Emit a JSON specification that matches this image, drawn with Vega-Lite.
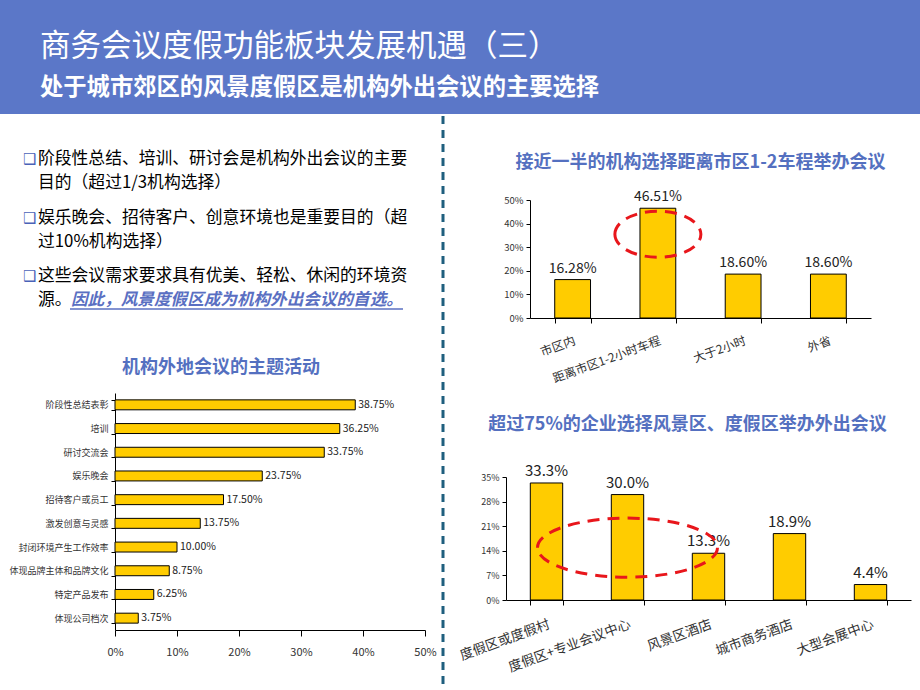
{
  "$schema": "https://vega.github.io/schema/vega-lite/v6.json",
  "background": "white",
  "padding": 0,
  "spacing": 0,
  "config": {
    "view": {"stroke": null},
    "font": "Noto Sans CJK SC",
    "axis": {"grid": false, "domainColor": "#000000", "tickColor": "#000000", "labelColor": "#333333", "labelFont": "Noto Sans CJK SC", "labelFlush": false},
    "title": {"font": "Noto Sans CJK SC", "fontSize": 18, "fontWeight": "bold", "color": "#5470C0"}
  },
  "vconcat": [
    {
      "width": 920,
      "height": 114,
      "view": {"fill": "#5B77C8", "stroke": null},
      "data": {"values": [
        {"kind": "title", "t": "商务会议度假功能板块发展机遇（三）"},
        {"kind": "subtitle", "t": "处于城市郊区的风景度假区是机构外出会议的主要选择"}
      ]},
      "encoding": {
        "y": {"field": "kind", "type": "ordinal", "sort": ["title", "subtitle"], "axis": null, "scale": {"type": "point", "range": [47, 88], "padding": 0}}
      },
      "layer": [
        {
          "transform": [{"filter": "datum.kind === 'title'"}],
          "mark": {"type": "text", "align": "left", "baseline": "middle", "fontSize": 30.5, "color": "white"},
          "encoding": {"x": {"value": 40}, "text": {"field": "t"}}
        },
        {
          "transform": [{"filter": "datum.kind === 'subtitle'"}],
          "mark": {"type": "text", "align": "left", "baseline": "middle", "fontSize": 23.3, "fontWeight": "bold", "color": "white"},
          "encoding": {"x": {"value": 40}, "text": {"field": "t"}}
        }
      ]
    },
    {
      "spacing": 0,
      "hconcat": [
        {
          "spacing": 40,
          "vconcat": [
            {
              "width": 440,
              "height": 203,
              "data": {"values": [
                {"p": 1, "style": "body", "lines": ["阶段性总结、培训、研讨会是机构外出会议的主要", "目的（超过1/3机构选择）"]},
                {"p": 2, "style": "body", "lines": ["娱乐晚会、招待客户、创意环境也是重要目的（超", "过10%机构选择）"]},
                {"p": 3, "style": "body", "lines": ["这些会议需求要求具有优美、轻松、休闲的环境资", "源。"]},
                {"p": 3, "style": "emphasis", "lines": ["", "因此，风景度假区成为机构外出会议的首选。"]}
              ]},
              "encoding": {
                "y": {"field": "p", "type": "ordinal", "axis": null, "scale": {"type": "point", "padding": 0.735}}
              },
              "layer": [
                {
                  "transform": [{"filter": "datum.style === 'body'"}],
                  "mark": {"type": "text", "align": "left", "baseline": "middle", "fontSize": 16.8, "lineHeight": 24, "color": "#000000"},
                  "encoding": {"x": {"value": 38}, "text": {"field": "lines"}}
                },
                {
                  "transform": [{"filter": "datum.style === 'body'"}],
                  "mark": {"type": "text", "align": "left", "baseline": "middle", "fontSize": 15, "fontWeight": "bold", "lineHeight": 24, "color": "#4A62B8", "font": "DejaVu Sans"},
                  "encoding": {"x": {"value": 23}, "text": {"value": ["❑", ""]}}
                },
                {
                  "transform": [{"filter": "datum.style === 'emphasis'"}],
                  "mark": {"type": "text", "align": "left", "baseline": "middle", "fontSize": 16.6, "fontStyle": "italic", "fontWeight": "bold", "lineHeight": 24, "color": "#5A6FC2"},
                  "encoding": {"x": {"value": 71}, "text": {"field": "lines"}}
                },
                {
                  "transform": [{"filter": "datum.style === 'emphasis'"}],
                  "mark": {"type": "rule", "color": "#5A6FC2", "strokeWidth": 1.3, "yOffset": 33},
                  "encoding": {"x": {"value": 70}, "x2": {"value": 403}}
                }
              ]
            },
            {
              "spacing": 7,
              "hconcat": [
                {"width": 1, "height": 1, "data": {"values": [{}]}, "mark": {"type": "point", "size": 0, "strokeWidth": 0, "opacity": 0}},
                {
                  "width": 310,
                  "height": 237,
                  "title": {"text": "机构外地会议的主题活动", "offset": 12, "dx": -49},
                  "data": {"values": [
                    {"item": "阶段性总结表彰", "share": 0.3875},
                    {"item": "培训", "share": 0.3625},
                    {"item": "研讨交流会", "share": 0.3375},
                    {"item": "娱乐晚会", "share": 0.2375},
                    {"item": "招待客户或员工", "share": 0.175},
                    {"item": "激发创意与灵感", "share": 0.1375},
                    {"item": "封闭环境产生工作效率", "share": 0.1},
                    {"item": "体现品牌主体和品牌文化", "share": 0.0875},
                    {"item": "特定产品发布", "share": 0.0625},
                    {"item": "体现公司档次", "share": 0.0375}
                  ]},
                  "encoding": {
                    "y": {"field": "item", "type": "nominal", "sort": null,
                      "scale": {"domain": ["阶段性总结表彰", "培训", "研讨交流会", "娱乐晚会", "招待客户或员工", "激发创意与灵感", "封闭环境产生工作效率", "体现品牌主体和品牌文化", "特定产品发布", "体现公司档次"], "paddingInner": 0.58, "paddingOuter": 0.29},
                      "axis": {"title": null, "tickBand": "extent", "tickSize": 4, "labelPadding": 3, "labelFontSize": 9}},
                    "x": {"field": "share", "type": "quantitative",
                      "scale": {"domain": [0, 0.5], "nice": false},
                      "axis": {"title": null, "values": [0, 0.1, 0.2, 0.3, 0.4, 0.5], "format": ".0%", "tickSize": 6, "labelPadding": 10, "labelFontSize": 11}}
                  },
                  "layer": [
                    {"mark": {"type": "bar", "fill": "#FFCC00", "stroke": "#000000", "strokeWidth": 1}},
                    {"mark": {"type": "text", "align": "left", "baseline": "middle", "dx": 3, "fontSize": 10.5, "color": "#222222"},
                     "encoding": {"text": {"field": "share", "type": "quantitative", "format": ".2%"}}}
                  ]
                }
              ]
            }
          ]
        },
        {
          "width": 6,
          "height": 576,
          "data": {"values": [{"divider": "column separator"}]},
          "mark": {"type": "rule", "color": "#1F5F7E", "strokeWidth": 3, "strokeDash": [8, 6]},
          "encoding": {"x": {"datum": 0.5, "type": "quantitative", "scale": {"domain": [0, 1]}, "axis": null}}
        },
        {
          "spacing": 30,
          "vconcat": [
            {
              "spacing": 37,
              "vconcat": [
                {"width": 1, "height": 1, "data": {"values": [{}]}, "mark": {"type": "point", "size": 0, "strokeWidth": 0, "opacity": 0}},
                {
                  "spacing": 56,
                  "hconcat": [
                    {"width": 1, "height": 1, "data": {"values": [{}]}, "mark": {"type": "point", "size": 0, "strokeWidth": 0, "opacity": 0}},
                    {
                      "width": 341,
                      "height": 118,
                      "title": {"text": "接近一半的机构选择距离市区1-2车程举办会议", "offset": 18, "frame": "group"},
                      "encoding": {
                        "x": {"field": "dist", "type": "nominal", "sort": null,
                          "scale": {"domain": ["市区内", "距离市区1-2小时车程", "大于2小时", "外省"], "paddingInner": 0.58, "paddingOuter": 0.29},
                          "axis": {"title": null, "tickBand": "extent", "labelAngle": -20, "labelAlign": "right", "labelBaseline": "top", "tickSize": 5, "labelPadding": 12, "labelFontSize": 12}},
                        "y": {"field": "share", "type": "quantitative",
                          "scale": {"domain": [0, 0.5], "nice": false},
                          "axis": {"title": null, "values": [0, 0.1, 0.2, 0.3, 0.4, 0.5], "format": ".0%", "tickSize": 4, "labelPadding": 3, "labelFontSize": 9.5}}
                      },
                      "layer": [
                        {
                          "data": {"values": [
                            {"dist": "市区内", "share": 0.1628},
                            {"dist": "距离市区1-2小时车程", "share": 0.4651},
                            {"dist": "大于2小时", "share": 0.186},
                            {"dist": "外省", "share": 0.186}
                          ]},
                          "layer": [
                            {"mark": {"type": "bar", "fill": "#FFCC00", "stroke": "#000000", "strokeWidth": 1}},
                            {"mark": {"type": "text", "baseline": "bottom", "dy": -4, "fontSize": 14, "color": "#222222"},
                             "encoding": {"text": {"field": "share", "type": "quantitative", "format": ".2%"}}}
                          ]
                        },
                        {
                          "data": {"values": [{"dist": "距离市区1-2小时车程", "share": 0.355}]},
                          "mark": {"type": "point", "shape": "M-1,0C-1,-0.295,-0.552,-0.535,0,-0.535C0.552,-0.535,1,-0.295,1,0C1,0.295,0.552,0.535,0,0.535C-0.552,0.535,-1,0.295,-1,0Z", "size": 7396, "filled": false, "stroke": "#E8161B", "strokeWidth": 3, "strokeDash": [12, 8], "opacity": 1, "strokeOpacity": 1}
                        }
                      ]
                    }
                  ]
                }
              ]
            },
            {
              "spacing": 10,
              "hconcat": [
                {"width": 1, "height": 1, "data": {"values": [{}]}, "mark": {"type": "point", "size": 0, "strokeWidth": 0, "opacity": 0}},
                {
                  "width": 405,
                  "height": 123,
                  "title": {"text": "超过75%的企业选择风景区、度假区举办外出会议", "offset": 30, "dx": -21},
                  "encoding": {
                    "x": {"field": "venue", "type": "nominal", "sort": null,
                      "scale": {"domain": ["度假区或度假村", "度假区+专业会议中心", "风景区酒店", "城市商务酒店", "大型会展中心"], "paddingInner": 0.6, "paddingOuter": 0.3},
                      "axis": {"title": null, "tickBand": "extent", "labelAngle": -20, "labelAlign": "right", "labelBaseline": "top", "tickSize": 5, "labelPadding": 12, "labelFontSize": 13.5}},
                    "y": {"field": "share", "type": "quantitative",
                      "scale": {"domain": [0, 0.35], "nice": false},
                      "axis": {"title": null, "values": [0, 0.07, 0.14, 0.21, 0.28, 0.35], "format": ".0%", "tickSize": 4, "labelPadding": 3, "labelFontSize": 9}}
                  },
                  "layer": [
                    {
                      "data": {"values": [
                        {"venue": "度假区或度假村", "share": 0.333},
                        {"venue": "度假区+专业会议中心", "share": 0.3},
                        {"venue": "风景区酒店", "share": 0.133},
                        {"venue": "城市商务酒店", "share": 0.189},
                        {"venue": "大型会展中心", "share": 0.044}
                      ]},
                      "layer": [
                        {"mark": {"type": "bar", "fill": "#FFCC00", "stroke": "#000000", "strokeWidth": 1}},
                        {"mark": {"type": "text", "baseline": "bottom", "dy": -4, "fontSize": 15, "color": "#222222"},
                         "encoding": {"text": {"field": "share", "type": "quantitative", "format": ".1%"}}}
                      ]
                    },
                    {
                      "data": {"values": [{"venue": "度假区+专业会议中心", "share": 0.149}]},
                      "mark": {"type": "point", "shape": "M-1,0C-1,-0.181,-0.552,-0.328,0,-0.328C0.552,-0.328,1,-0.181,1,0C1,0.181,0.552,0.328,0,0.328C-0.552,0.328,-1,0.181,-1,0Z", "size": 32400, "filled": false, "stroke": "#E8161B", "strokeWidth": 3, "strokeDash": [12, 8], "opacity": 1, "strokeOpacity": 1}
                    }
                  ]
                }
              ]
            }
          ]
        }
      ]
    }
  ]
}
